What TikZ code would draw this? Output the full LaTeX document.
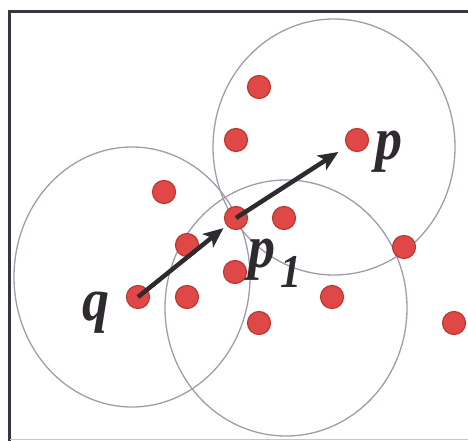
\documentclass[tikz,border=0pt]{standalone}
\usepackage{fontspec}
\setmainfont{Liberation Serif}
\usetikzlibrary{arrows.meta}
\definecolor{framec}{HTML}{3A3440}
\definecolor{ringc}{HTML}{A49AAA}
\definecolor{dotfill}{HTML}{E04848}
\definecolor{dotedge}{HTML}{B83A30}
\definecolor{inkc}{HTML}{2E2A30}
\newcommand{\tallglyph}[1]{\scalebox{1}[1.12]{#1}}
\tikzset{
  pt/.style={circle, fill=dotfill, draw=dotedge, line width=1.2pt, minimum size=23pt, inner sep=0pt},
  ring/.style={draw=ringc, line width=1.3pt},
  arr/.style={draw=inkc, line width=4.5pt, -{Stealth[length=20pt,width=17pt,inset=5pt]}, shorten >=4pt},
  lbl/.style={text=inkc, font=\fontsize{54}{54}\selectfont\bfseries\itshape, inner sep=0pt},
  sublbl/.style={text=inkc, font=\fontsize{42}{42}\selectfont\bfseries\itshape, inner sep=0pt}
}
\begin{document}
\begin{tikzpicture}[x=1pt,y=-1pt]
\useasboundingbox (0,0) rectangle (468,441);
\fill[white] (0,0) rectangle (468,441);
% frame
\draw[framec, line width=3.5pt] (9.5,441) -- (9.5,11.5) -- (468,11.5);
\draw[ringc!60, line width=1pt] (9.5,439) -- (468,439);
% rings
\draw[ring] (334,147) ellipse [x radius=121, y radius=128];
\draw[ring] (132,277) ellipse [x radius=118, y radius=130];
\draw[ring] (286,308) ellipse [x radius=121, y radius=128];
% points
\node[pt] (a1) at (259,87) {};
\node[pt] (a2) at (236,140) {};
\node[pt] (p) at (357,140) {};
\node[pt] (a3) at (164,192) {};
\node[pt] (p1) at (236,218) {};
\node[pt] (a4) at (284,218) {};
\node[pt] (a5) at (187,245) {};
\node[pt] (a6) at (404,247) {};
\node[pt] (a7) at (235,272) {};
\node[pt] (q) at (138,297) {};
\node[pt] (a8) at (187,297) {};
\node[pt] (a9) at (332,297) {};
\node[pt] (a10) at (259,323) {};
\node[pt] (a11) at (454,323) {};
% arrows
\draw[arr] (q.center) -- (p1);
\draw[arr, shorten >=10pt] (p1.center) -- (p);
% labels
\node[lbl] (lq) at (96,313) {\tallglyph{q}};
\node[lbl] (lp) at (389,152) {\tallglyph{p}};
\node[lbl] (lp1) at (262,260) {\tallglyph{p}};
\node[sublbl] (ls1) at (291,272) {\tallglyph{1}};
\end{tikzpicture}
\end{document}
